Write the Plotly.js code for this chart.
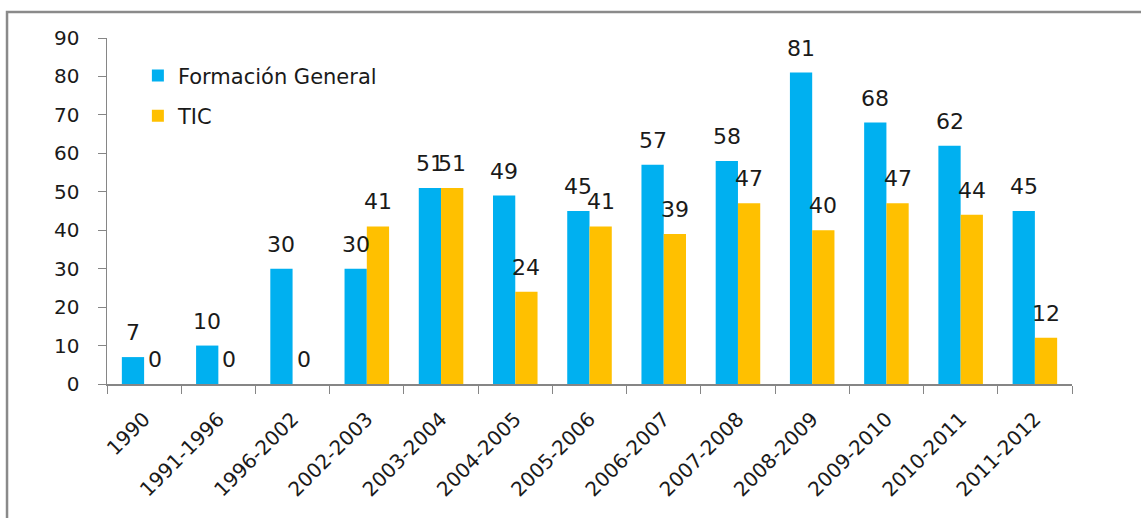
<!DOCTYPE html>
<html>
<head>
<meta charset="utf-8">
<script src="https://cdn.plot.ly/plotly-3.0.1.min.js"></script>
<style>
html,body{margin:0;padding:0;background:#fff;}
#chart{width:1141px;height:518px;}
</style>
</head>
<body>
<div id="chart"></div>
<script>
const categories = ["1990","1991-1996","1996-2002","2002-2003","2003-2004","2004-2005","2005-2006","2006-2007","2007-2008","2008-2009","2009-2010","2010-2011","2011-2012"];
const formacionGeneral = [7,10,30,30,51,49,45,57,58,81,68,62,45];
const tic = [0,0,0,41,51,24,41,39,47,40,47,44,12];
const seriesNames = ["Formación General","TIC"];

const FONT = "'DejaVu Sans', sans-serif";
const TEXT = "#1a1a1a";
const BLUE = "#00B0F0", YELLOW = "#FFC000";

const traces = [
  {type:"bar", name:seriesNames[0], x:categories, y:formacionGeneral, marker:{color:BLUE}, legendgroup:"a", hoverinfo:"none"},
  {type:"bar", name:seriesNames[1], x:categories, y:tic, marker:{color:YELLOW}, legendgroup:"b", hoverinfo:"none"}
];

const annotations = [];
[formacionGeneral, tic].forEach((arr, s) => {
  arr.forEach((v, i) => {
    annotations.push({
      x: i + (s === 0 ? -0.15 : 0.15), y: v, xref:"x", yref:"y",
      text: String(v), showarrow:false, yanchor:"bottom", yshift:10,
      font:{family:FONT, size:22, color:TEXT}
    });
  });
});

const layout = {
  width:1141, height:518,
  margin:{l:107, r:69, t:38, b:134},
  paper_bgcolor:"#fff", plot_bgcolor:"#fff",
  font:{family:FONT, color:TEXT},
  barmode:"group", bargap:0.4, bargroupgap:0,
  showlegend:true,
  legend:{x:0.032, y:0.95, xanchor:"left", yanchor:"top", bgcolor:"rgba(0,0,0,0)",
          font:{family:FONT, size:21, color:TEXT}, traceorder:"grouped", tracegroupgap:10,
          itemwidth:30},
  xaxis:{type:"category", tickson:"boundaries", ticks:"outside", ticklen:8, tickcolor:"#868686",
         showline:true, linecolor:"#868686", linewidth:1.5, showgrid:false, tickangle:-45,
         tickfont:{family:FONT, size:20, color:TEXT}, ticklabelstandoff:14, fixedrange:true},
  yaxis:{range:[0,90], dtick:10, ticks:"outside", ticklen:8, tickcolor:"#868686",
         showline:true, linecolor:"#868686", linewidth:1.5, showgrid:false, zeroline:false,
         tickfont:{family:FONT, size:20, color:TEXT}, ticklabelstandoff:14, fixedrange:true},
  annotations: annotations,
  shapes:[{type:"rect", xref:"paper", yref:"paper", x0:-0.1036, x1:1.3, y0:-0.6, y1:1.0751,
           line:{color:"#8a8a8a", width:2.5}, fillcolor:"rgba(0,0,0,0)", layer:"below"}]
};

Plotly.newPlot("chart", traces, layout, {displayModeBar:false, staticPlot:true});
</script>
</body>
</html>
